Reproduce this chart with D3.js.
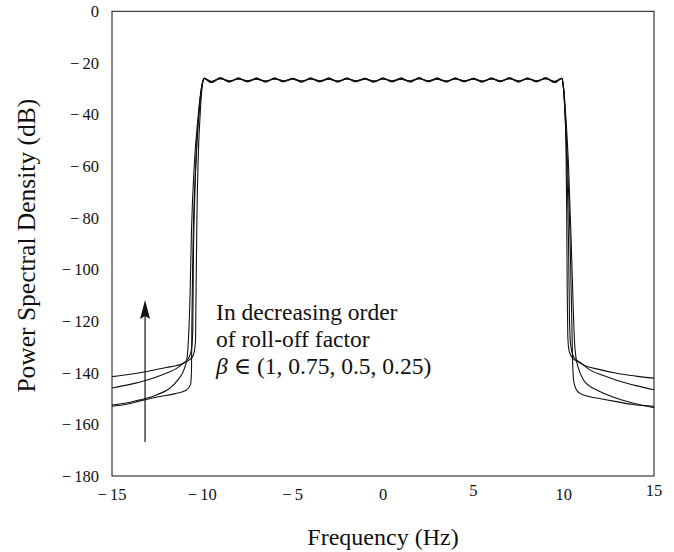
<!DOCTYPE html>
<html>
<head>
<meta charset="utf-8">
<script src="https://cdn.jsdelivr.net/npm/d3@7"></script>
<style>
  body { margin: 0; background: #fff; }
  svg { font-family: "Liberation Serif", "DejaVu Serif", serif; }
  svg text { fill: #111; }
  .curve { fill: none; stroke: #111; stroke-width: 1.1; }
</style>
</head>
<body>
<svg width="674" height="552"></svg>
<script>
var xTicks = [-15, -10, -5, 0, 5, 10, 15];
var yTicks = [0, -20, -40, -60, -80, -100, -120, -140, -160, -180];

// flat top ripple (Hz / dB)
var rippleFreq = [-9.5, -9, -8.5, -8, -7.5, -7, -6.5, -6, -5.5, -5, -4.5, -4, -3.5, -3, -2.5, -2, -1.5, -1, -0.5, 0,
  0.5, 1, 1.5, 2, 2.5, 3, 3.5, 4, 4.5, 5, 5.5, 6, 6.5, 7, 7.5, 8, 8.5, 9, 9.5];
var rippleA = [-27.2, -26.1, -27.0, -26.2, -26.9, -26.3, -27.0, -26.2, -26.9, -26.3, -27.0, -26.2, -26.9, -26.3, -27.0, -26.2, -26.9, -26.3, -27.0, -26.2,
  -26.9, -26.3, -27.0, -26.1, -26.9, -26.3, -27.0, -26.2, -26.9, -26.3, -27.0, -26.2, -26.9, -26.1, -27.0, -26.2, -26.9, -26.1, -27.2];
var rippleB = [-27.6, -25.8, -27.4, -25.9, -27.3, -25.9, -27.4, -25.9, -27.3, -26.0, -27.4, -25.9, -27.3, -25.9, -27.4, -25.9, -27.3, -26.0, -27.4, -25.9,
  -27.3, -25.9, -27.4, -25.8, -27.3, -25.9, -27.4, -25.9, -27.3, -26.0, -27.4, -25.9, -27.3, -25.8, -27.4, -25.9, -27.3, -25.8, -27.6];

// band edges for each roll-off, [Hz, dB]
var left025 = [[-15, -141.5], [-14, -140.6], [-13, -139.4], [-12, -138], [-11.05, -136.3], [-10.7, -134.9], [-10.5, -133.2], [-10.38, -128], [-10.35, -110], [-10.3, -80], [-10.22, -55], [-10.12, -40], [-10.02, -30], [-9.9, -26.0]];
var left050 = [[-15, -145.9], [-14, -144.5], [-13, -142.7], [-12, -140.2], [-11.4, -138.2], [-11.05, -136.3], [-10.75, -134.2], [-10.6, -131], [-10.53, -124], [-10.5, -100], [-10.42, -72], [-10.3, -50], [-10.15, -36], [-10.02, -29], [-9.9, -26.0]];
var left075 = [[-15, -152.5], [-14, -151.4], [-13.45, -150.5], [-12.5, -148.5], [-11.8, -146], [-11.3, -142.3], [-11.0, -138.5], [-10.85, -134.5], [-10.76, -126], [-10.68, -110], [-10.6, -85], [-10.45, -60], [-10.25, -42], [-10.06, -30], [-9.9, -26.0]];
var left100 = [[-15, -153], [-14, -151.9], [-13.45, -150.9], [-12.5, -149.4], [-11.5, -148.1], [-10.9, -146.8], [-10.65, -144.5], [-10.6, -139], [-10.58, -122], [-10.52, -92], [-10.38, -62], [-10.22, -43], [-10.05, -30], [-9.9, -26.0]];

var right025 = [[9.9, -26.0], [9.98, -29], [10.06, -38], [10.13, -52], [10.17, -80], [10.2, -110], [10.23, -126], [10.3, -131.5], [10.5, -134.3], [10.8, -135.8], [11.1, -137], [12, -138.8], [13, -140.3], [14, -141.3], [15, -142.1]];
var right050 = [[9.9, -26.0], [9.99, -30], [10.08, -40], [10.17, -58], [10.27, -90], [10.32, -118], [10.37, -128], [10.5, -133], [10.7, -135], [10.9, -135.9], [11.45, -138.9], [12.2, -141.1], [12.93, -142.9], [14, -145], [15, -146.6]];
var right075 = [[9.9, -26.0], [10.0, -30], [10.12, -41], [10.27, -60], [10.42, -90], [10.53, -115], [10.6, -128], [10.68, -134], [10.8, -137.8], [11.08, -142.6], [11.4, -145], [11.83, -146.7], [12.93, -149.9], [14, -152], [15, -153.5]];
var right100 = [[9.9, -26.0], [10.0, -30], [10.1, -41], [10.22, -60], [10.36, -90], [10.45, -120], [10.5, -137], [10.56, -143.5], [10.7, -146.5], [10.9, -148], [11.4, -149.2], [12, -150], [13, -151.3], [13.83, -152.3], [15, -153]];

var annotationLines = ["In decreasing order", "of roll-off factor"];
var betaValues = ["1", "0.75", "0.5", "0.25"];

var svg = d3.select("svg"),
  margin = { top: 11.3, right: 20, bottom: 76, left: 112 },
  width = 674 - margin.left - margin.right,
  height = 552 - margin.top - margin.bottom,
  g = svg.append("g").attr("transform", "translate(" + margin.left + "," + margin.top + ")");

var x = d3.scaleLinear().domain([-15, 15]).range([0, width]);
var y = d3.scaleLinear().domain([-180, 0]).range([height, 0]);

function fmt(v) {
  return v < 0 ? "\u2212\u2009" + Math.abs(v) : String(v);
}

function buildCurve(left, ripple, right) {
  var pts = left.slice();
  rippleFreq.forEach(function(f, i) { pts.push([f, ripple[i]]); });
  return pts.concat(right);
}

var curves = [
  buildCurve(left025, rippleA, right025),
  buildCurve(left050, rippleB, right050),
  buildCurve(left075, rippleA, right075),
  buildCurve(left100, rippleB, right100)
];

var line = d3.line()
  .x(function(d) { return x(d[0]); })
  .y(function(d) { return y(d[1]); })
  .curve(d3.curveMonotoneX);

g.selectAll(".curve")
  .data(curves)
  .enter().append("path")
  .attr("class", "curve")
  .attr("d", line);

// frame
g.append("rect")
  .attr("x", 0).attr("y", 0)
  .attr("width", width).attr("height", height)
  .attr("fill", "none").attr("stroke", "#111").attr("stroke-width", 1);

// tick labels
g.selectAll(".ylab")
  .data(yTicks)
  .enter().append("text")
  .attr("class", "ylab")
  .attr("x", -13)
  .attr("y", function(d) { return y(d); })
  .attr("dy", "0.35em")
  .attr("text-anchor", "end")
  .style("font-size", "16.5px")
  .text(fmt);

g.selectAll(".xlab")
  .data(xTicks)
  .enter().append("text")
  .attr("class", "xlab")
  .attr("x", function(d) { return x(d); })
  .attr("y", function(d) { return height + (d === 5 || d === 15 ? 20 : 24); })
  .attr("text-anchor", "middle")
  .style("font-size", "16.5px")
  .text(fmt);

// axis titles
g.append("text")
  .attr("x", width / 2)
  .attr("y", height + 69)
  .attr("text-anchor", "middle")
  .style("font-size", "24px")
  .text("Frequency (Hz)");

g.append("text")
  .attr("transform", "translate(" + (-77) + "," + (height / 2 + 2) + ") rotate(-90)")
  .attr("text-anchor", "middle")
  .style("font-size", "25.5px")
  .text("Power Spectral Density (dB)");

// arrow
var ax = x(-13.17), ay0 = y(-166.8), ay1 = y(-111.8);
g.append("line")
  .attr("x1", ax).attr("x2", ax)
  .attr("y1", ay0).attr("y2", ay1 + 12)
  .attr("stroke", "#111").attr("stroke-width", 1.2);
g.append("path")
  .attr("d", "M" + ax + "," + ay1 + "L" + (ax - 5) + "," + (ay1 + 19) + "L" + ax + "," + (ay1 + 16) + "L" + (ax + 5) + "," + (ay1 + 19) + "Z")
  .attr("fill", "#111");

// annotation
var note = g.append("text")
  .attr("x", x(-9.24))
  .attr("y", y(-119.6))
  .style("font-size", "23.5px");
annotationLines.forEach(function(t, i) {
  note.append("tspan").attr("x", x(-9.24)).attr("dy", i === 0 ? 0 : 27).text(t);
});
var betaLine = note.append("tspan").attr("x", x(-9.24)).attr("dy", 27);
betaLine.append("tspan").style("font-style", "italic").text("\u03b2");
betaLine.append("tspan").text(" \u2208 (" + betaValues.join(", ") + ")");
</script>
</body>
</html>
